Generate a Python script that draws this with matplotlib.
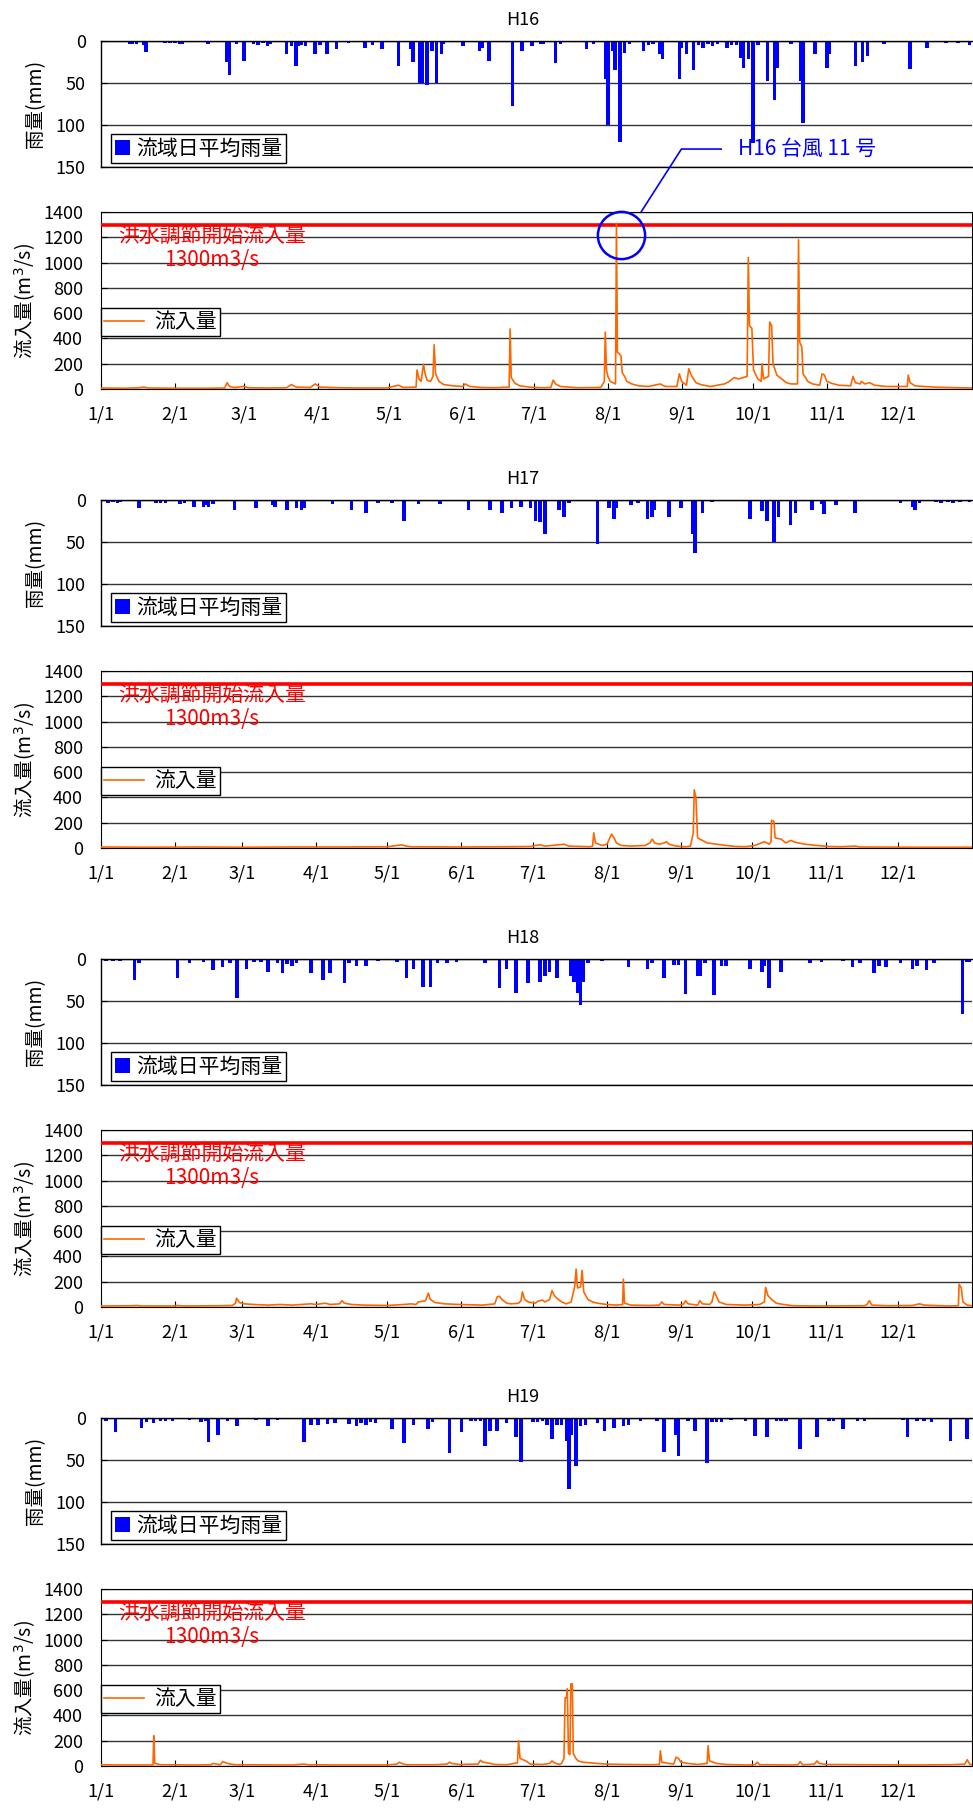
import matplotlib
matplotlib.use('Agg')
import matplotlib.pyplot as plt
import numpy as np

plt.rcParams['font.family'] = ['Noto Sans CJK JP', 'DejaVu Sans']
plt.rcParams['mathtext.fontset'] = 'dejavusans'

# ---- data ----
years = ['H16', 'H17', 'H18', 'H19']
days_in_year = [366, 365, 365, 365]
month_labels = ['1/1', '2/1', '3/1', '4/1', '5/1', '6/1',
                '7/1', '8/1', '9/1', '10/1', '11/1', '12/1']
flood_limit = 1300

# daily basin-average rainfall (day of year, mm)
h16_rain = [(12, 3), (13, 3), (15, 4), (18, 5), (19, 13), (27, 2), (29, 2), (31, 2), (33, 3), (34, 4),
            (45, 4), (53, 25), (54, 40), (57, 4), (60, 24), (64, 3), (66, 5), (68, 2), (70, 6), (71, 3),
            (78, 16), (80, 6), (82, 30), (83, 6), (84, 5), (86, 6), (90, 15), (92, 5), (95, 15), (99, 9),
            (104, 2), (111, 8), (114, 5), (118, 10), (125, 30), (130, 10), (131, 25), (134, 50), (135, 50),
            (137, 52), (139, 12), (141, 50), (143, 15), (144, 4), (152, 6), (159, 12), (160, 8), (163, 24),
            (173, 77), (177, 12), (181, 6), (185, 3), (186, 3), (191, 26), (193, 4), (204, 10), (207, 4),
            (212, 45), (213, 100), (215, 12), (216, 35), (218, 120), (220, 14), (222, 3), (228, 12),
            (230, 5), (232, 4), (235, 15), (236, 22), (243, 45), (244, 8), (246, 15), (249, 34), (251, 5),
            (253, 8), (255, 3), (257, 6), (259, 4), (263, 8), (265, 5), (267, 5), (269, 20), (270, 32),
            (272, 22), (274, 122), (276, 5), (280, 48), (283, 70), (284, 32), (290, 3), (294, 48),
            (295, 98), (300, 15), (305, 32), (306, 15), (317, 30), (320, 25), (322, 18), (329, 4),
            (340, 33), (347, 8), (355, 2), (360, 2), (365, 5)]
h17_rain = [(3, 3), (5, 2), (7, 3), (8, 2), (16, 10), (23, 3), (25, 4), (27, 3), (33, 5), (35, 4),
            (39, 8), (43, 8), (44, 6), (45, 8), (47, 5), (56, 12), (65, 10), (72, 6), (73, 8), (78, 12),
            (82, 10), (84, 12), (85, 10), (97, 5), (105, 12), (111, 15), (116, 3), (122, 4), (127, 25),
            (133, 5), (142, 5), (154, 12), (163, 12), (168, 15), (172, 10), (176, 8), (180, 10),
            (182, 25), (184, 26), (186, 40), (192, 12), (194, 20), (196, 3), (208, 52), (213, 10),
            (215, 23), (216, 10), (222, 6), (225, 3), (229, 23), (231, 20), (232, 12), (238, 20),
            (243, 10), (248, 40), (249, 63), (252, 15), (256, 2), (272, 23), (277, 13), (279, 25),
            (282, 50), (284, 20), (289, 30), (291, 15), (298, 12), (302, 5), (303, 17), (308, 6),
            (316, 15), (335, 3), (340, 8), (341, 12), (343, 3), (350, 2), (352, 3), (355, 2), (357, 3),
            (360, 2), (364, 2)]
h18_rain = [(2, 2), (5, 2), (8, 2), (14, 25), (16, 5), (32, 23), (37, 5), (43, 3), (47, 13), (51, 10),
            (54, 5), (57, 47), (61, 12), (64, 3), (67, 3), (70, 15), (74, 5), (76, 17), (78, 6), (80, 8),
            (82, 5), (88, 17), (93, 25), (96, 17), (102, 28), (104, 5), (107, 8), (111, 8), (116, 2),
            (124, 3), (128, 23), (131, 12), (135, 33), (138, 33), (141, 5), (145, 5), (149, 3), (161, 5),
            (167, 35), (170, 12), (174, 40), (179, 28), (184, 27), (186, 20), (188, 15), (191, 23),
            (197, 20), (198, 27), (199, 27), (200, 40), (201, 55), (202, 27), (204, 5), (210, 2),
            (221, 10), (229, 12), (231, 5), (236, 23), (240, 7), (242, 7), (245, 42), (250, 20),
            (251, 20), (253, 5), (257, 43), (260, 8), (262, 8), (272, 12), (277, 15), (278, 8),
            (280, 35), (285, 15), (297, 5), (302, 4), (311, 2), (315, 10), (318, 5), (324, 17), (326, 8),
            (329, 10), (335, 5), (340, 12), (342, 8), (346, 13), (349, 5), (361, 65), (363, 3), (364, 3)]
h19_rain = [(2, 3), (6, 17), (17, 12), (19, 5), (22, 6), (25, 3), (27, 3), (30, 3), (37, 2), (42, 5),
            (44, 4), (45, 28), (49, 20), (53, 3), (57, 10), (65, 2), (70, 9), (74, 2), (85, 28), (88, 8),
            (91, 8), (95, 7), (98, 6), (104, 7), (107, 10), (109, 6), (111, 8), (113, 5), (115, 6),
            (122, 13), (127, 30), (131, 8), (137, 13), (139, 5), (146, 42), (151, 17), (155, 3),
            (157, 3), (159, 3), (161, 33), (163, 15), (166, 15), (170, 6), (174, 23), (176, 52),
            (181, 5), (183, 5), (185, 4), (187, 8), (189, 25), (191, 8), (193, 8), (195, 27), (196, 85),
            (197, 20), (199, 57), (201, 10), (203, 8), (208, 6), (211, 15), (215, 12), (219, 10),
            (221, 8), (226, 3), (233, 4), (236, 40), (241, 20), (242, 45), (246, 3), (249, 15),
            (254, 53), (256, 5), (258, 5), (260, 5), (264, 2), (270, 4), (274, 22), (279, 23), (283, 3),
            (285, 3), (287, 3), (293, 37), (300, 23), (305, 4), (307, 4), (311, 13), (317, 3), (320, 3),
            (336, 2), (338, 23), (342, 3), (345, 4), (348, 5), (356, 27), (363, 25)]

# dam inflow (day of year, m3/s)
h16_flow = [(0, 8), (10, 6), (16, 10), (18, 15), (20, 8), (30, 6), (45, 6), (52, 8), (53, 50), (54, 20),
            (56, 12), (60, 20), (62, 10), (70, 8), (78, 10), (80, 35), (82, 15), (88, 12), (90, 40),
            (92, 15), (100, 10), (110, 8), (120, 8), (125, 30), (127, 12), (132.4, 15), (132.8, 150),
            (133.6, 80), (134.5, 60), (135.5, 195), (136.2, 120), (137, 70), (138.5, 60), (139.5, 100),
            (140, 350), (140.6, 120), (142, 60), (144, 35), (148, 25), (152, 20), (153, 40), (155, 20),
            (160, 12), (165, 10), (171.5, 15), (171.9, 475), (172.4, 90), (174, 45), (176, 25),
            (180, 15), (185, 10), (189, 12), (190, 70), (191, 40), (193, 20), (200, 10), (210, 12),
            (211.5, 60), (211.9, 450), (212.4, 150), (213, 100), (214, 60), (216.2, 40), (216.6, 1310),
            (217, 290), (217.5, 285), (218.5, 260), (219, 130), (220, 100), (221, 60), (223, 40),
            (226, 25), (230, 20), (235, 40), (237, 20), (242, 20), (243, 120), (244, 60), (246, 30),
            (247, 160), (248, 110), (250, 50), (252, 35), (256, 20), (262, 40), (264, 60), (266, 90),
            (268, 80), (271.5, 100), (272, 1040), (272.5, 500), (273.5, 480), (274.2, 150), (276, 80),
            (277.4, 60), (277.8, 200), (278.4, 80), (280.5, 100), (281, 530), (281.8, 500), (282.4, 200),
            (284, 110), (286, 80), (288, 50), (290, 40), (292.7, 40), (293.1, 1180), (293.6, 370),
            (294.5, 330), (295, 120), (297, 60), (299, 40), (302, 30), (303, 120), (304, 110), (305, 60),
            (307, 45), (310, 30), (315, 25), (316, 100), (317, 50), (319, 40), (319.5, 60), (321, 40),
            (323, 50), (325, 30), (330, 20), (338.8, 20), (339.2, 110), (340, 50), (342, 25), (350, 15),
            (360, 10), (366, 8)]
h17_flow = [(0, 8), (20, 6), (40, 8), (60, 6), (80, 8), (100, 8), (120, 10), (126, 25), (128, 15),
            (130, 10), (150, 8), (170, 10), (180, 12), (182, 20), (184, 25), (186, 15), (192, 25),
            (194, 30), (196, 15), (205, 10), (206, 15), (206.5, 120), (207.2, 40), (210, 20), (212, 30),
            (213, 70), (214, 110), (215, 80), (216, 40), (218, 20), (222, 15), (228, 20), (230, 40),
            (231, 70), (232, 40), (234, 30), (236, 40), (237, 50), (238, 30), (241, 15), (245, 10),
            (247, 15), (248.2, 120), (248.6, 460), (249.3, 400), (250, 80), (252, 60), (254, 40),
            (258, 30), (262, 20), (266, 12), (270, 10), (274, 20), (276, 35), (278, 50), (280, 30),
            (280.8, 50), (281, 220), (282, 210), (282.5, 80), (285, 70), (287, 40), (289, 60), (291, 45),
            (295, 30), (300, 20), (305, 12), (310, 10), (316, 15), (318, 8), (340, 6), (365, 6)]
h18_flow = [(0, 8), (13, 10), (15, 12), (17, 8), (30, 8), (32, 12), (34, 8), (50, 10), (55, 12),
            (56.4, 30), (56.8, 70), (58, 35), (60, 25), (64, 20), (70, 15), (75, 20), (80, 15), (88, 25),
            (90, 20), (94, 30), (96, 20), (100, 25), (101, 50), (102, 30), (105, 20), (110, 15),
            (120, 12), (127, 20), (130, 25), (132, 20), (133, 40), (136, 50), (137.2, 110), (138, 60),
            (140, 35), (144, 25), (150, 20), (160, 15), (165, 25), (166, 80), (167, 85), (168, 60),
            (170, 30), (172, 25), (175, 30), (176, 50), (176.6, 120), (177.5, 60), (179, 40), (182, 30),
            (183, 45), (185, 55), (186, 40), (188, 60), (189, 130), (190, 90), (191, 70), (193, 40),
            (195, 25), (197, 40), (198.5, 160), (199.1, 300), (199.7, 150), (201, 160), (201.6, 290),
            (202.3, 120), (204, 60), (206, 40), (208, 30), (212, 20), (216, 15), (218.6, 20),
            (218.9, 220), (219.4, 30), (222, 15), (230, 12), (234, 15), (235, 40), (236, 20), (242, 15),
            (244, 20), (245, 50), (246, 25), (250, 15), (251, 50), (252, 25), (255, 20), (256, 40),
            (257, 120), (258, 80), (259, 40), (262, 20), (270, 15), (276, 20), (278, 40), (278.5, 155),
            (279.5, 90), (281, 60), (283, 30), (286, 20), (290, 10), (300, 8), (320, 10), (321, 20),
            (322, 50), (323, 15), (330, 10), (340, 12), (343, 25), (345, 15), (355, 8), (359.3, 10),
            (359.6, 180), (360.5, 150), (361.2, 40), (363, 15), (365, 10)]
h19_flow = [(0, 10), (10, 8), (21.8, 8), (22.1, 240), (22.5, 20), (25, 10), (40, 8), (46, 10), (47, 20),
            (50, 10), (51, 35), (53, 20), (56, 10), (80, 8), (85, 15), (87, 10), (100, 8), (120, 8),
            (124, 15), (125, 30), (126, 20), (128, 10), (140, 10), (145, 15), (146, 30), (147, 20),
            (150, 12), (158, 15), (159, 45), (160, 30), (162, 25), (165, 12), (170, 10), (174.5, 25),
            (175, 200), (175.6, 60), (178, 40), (180, 15), (185, 12), (188, 20), (189, 40), (190, 25),
            (192, 12), (193, 20), (194, 60), (194.5, 540), (195.1, 540), (195.4, 610), (195.9, 100),
            (196.5, 90), (196.9, 650), (197.5, 650), (197.9, 100), (199, 60), (200, 40), (202, 30),
            (205, 25), (208, 20), (212, 15), (220, 12), (230, 10), (234, 12), (234.4, 120), (235, 30),
            (238, 20), (240, 15), (241, 70), (242, 60), (243, 30), (246, 20), (250, 12), (254, 20),
            (254.4, 160), (255, 40), (258, 20), (262, 12), (270, 8), (274, 10), (275, 30), (276, 10),
            (290, 8), (292, 10), (293, 35), (294, 10), (299, 15), (300, 40), (301, 20), (304, 12),
            (320, 10), (340, 8), (356, 10), (362, 15), (363, 50), (364, 15), (365, 10)]

rain_by_year = [h16_rain, h17_rain, h18_rain, h19_rain]
flow_by_year = [h16_flow, h17_flow, h18_flow, h19_flow]

# ---- layout (pixels of the 973x1809 canvas) ----
W, H = 973, 1809
STEP = 459


def box(left, top, right, bottom):
    return [left / W, 1 - bottom / H, (right - left) / W, (bottom - top) / H]


fig = plt.figure(figsize=(W / 100, H / 100), dpi=100)
grid_kw = dict(color='#333333', linewidth=1.0)

for k, year in enumerate(years):
    off = STEP * k
    n = days_in_year[k]
    lengths = [31, 29 if n == 366 else 28, 31, 30, 31, 30, 31, 31, 30, 31, 30, 31]
    month_starts = np.concatenate([[0], np.cumsum(lengths)[:-1]])

    # rainfall panel
    ax_r = fig.add_axes(box(101, 41 + off, 972, 167 + off))
    rd, rv = zip(*rain_by_year[k])
    ax_r.bar(rd, rv, width=1.5, color='#0000FF', linewidth=0, label='流域日平均雨量')
    ax_r.set_xlim(0, n)
    ax_r.set_ylim(150, 0)
    ax_r.set_yticks([0, 50, 100, 150])
    ax_r.set_xticks([])
    ax_r.yaxis.grid(True, **grid_kw)
    ax_r.set_axisbelow(True)
    ax_r.spines['right'].set_visible(False)
    for s in ['top', 'bottom', 'left']:
        ax_r.spines[s].set_linewidth(1.0)
    ax_r.tick_params(axis='y', direction='in', length=4, pad=11, labelsize=13)
    ax_r.legend(loc='lower left', bbox_to_anchor=(0.012, 0.035), borderaxespad=0,
                fontsize=15, frameon=True, fancybox=False, edgecolor='black', framealpha=1,
                borderpad=0.15, handlelength=0.75, handleheight=0.75, handletextpad=0.3)

    # inflow panel
    ax_q = fig.add_axes(box(101, 212 + off, 972, 389 + off))
    qd, qv = zip(*flow_by_year[k])
    ax_q.axhline(flood_limit, color='#FF0000', linewidth=2.6, zorder=3)
    ax_q.plot(qd, qv, color='#FF6600', linewidth=1.2, label='流入量', zorder=4)
    ax_q.set_xlim(0, n)
    ax_q.set_ylim(0, 1400)
    ax_q.set_yticks(np.arange(0, 1401, 200))
    ax_q.set_xticks(month_starts)
    ax_q.set_xticklabels(month_labels)
    ax_q.yaxis.grid(True, **grid_kw)
    ax_q.set_axisbelow(True)
    ax_q.tick_params(axis='x', direction='in', length=4, pad=12, labelsize=13)
    ax_q.tick_params(axis='y', direction='in', length=4, pad=13, labelsize=13)
    ax_q.text(0.127, 0.793, '洪水調節開始流入量\n1300m3/s', transform=ax_q.transAxes,
              color='#FF0000', fontsize=15, ha='center', va='center', multialignment='center',
              linespacing=1.1, zorder=2)
    ax_q.legend(loc='upper left', bbox_to_anchor=(0.0, 0.458), borderaxespad=0,
                fontsize=15, frameon=True, fancybox=False, edgecolor='black', framealpha=1,
                borderpad=0.15, handlelength=1.9, handletextpad=0.5)

    # titles and axis labels
    fig.text(523 / W, 1 - (20 + off) / H, year, ha='center', va='center', fontsize=13)
    fig.text(36 / W, 1 - (104 + off) / H, '雨量(mm)', rotation=90,
             ha='center', va='center', fontsize=14)
    fig.text(25 / W, 1 - (301 + off) / H, '流入量(m$^3$/s)', rotation=90,
             ha='center', va='center', fontsize=14)

    if k == 0:
        # typhoon No.11 callout
        ax_q.plot([218.7], [1220], marker='o', markersize=34, markerfacecolor='none',
                  markeredgecolor='#0000FF', markeredgewidth=1.8, clip_on=False, zorder=6)
        ax_q.plot([227.1, 243.9, 260.6], [1405, 1898, 1898], color='#0000FF',
                  linewidth=1.2, clip_on=False, zorder=6)
        ax_q.text(267.5, 1898, 'H16 台風 11 号', color='#0000FF', fontsize=15,
                  ha='left', va='center', clip_on=False, zorder=6)

fig.savefig('out.png', dpi=100)
